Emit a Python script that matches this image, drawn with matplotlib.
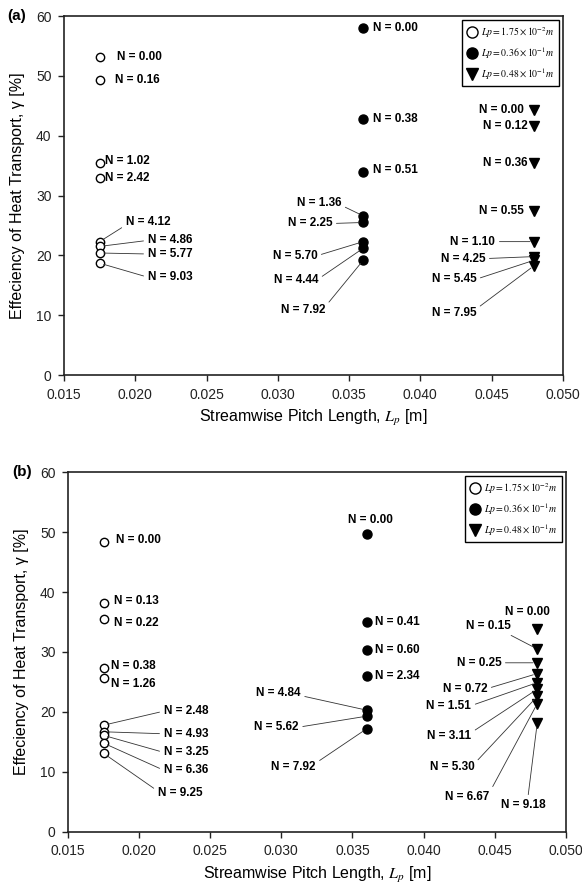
import matplotlib
matplotlib.use('Agg')
import matplotlib.pyplot as plt
import numpy as np
from matplotlib.lines import Line2D

plt.rcParams['font.family'] = ['Liberation Sans', 'DejaVu Sans']
plt.rcParams['mathtext.fontset'] = 'stix'

# streamwise pitch length of the three arrays [m]
lp_values = [0.0175, 0.036, 0.048]
legend_labels = [r'$Lp = 1.75 \times 10^{-2}m$',
                 r'$Lp = 0.36 \times 10^{-1}m$',
                 r'$Lp = 0.48 \times 10^{-1}m$']

# ---- panel (a) ----
a_open_N = ['0.00', '0.16', '1.02', '2.42', '4.12', '4.86', '5.77', '9.03']
a_open_eff = [53.1, 49.3, 35.5, 33.0, 22.3, 21.5, 20.4, 18.7]
a_fill_N = ['0.00', '0.38', '0.51', '1.36', '2.25', '5.70', '4.44', '7.92']
a_fill_eff = [58.0, 42.8, 34.0, 26.6, 25.5, 22.3, 21.2, 19.2]
a_tri_N = ['0.00', '0.12', '0.36', '0.55', '1.10', '4.25', '5.45', '7.95']
a_tri_eff = [44.3, 41.6, 35.4, 27.4, 22.3, 19.8, 19.2, 18.3]

# ---- panel (b) ----
b_open_N = ['0.00', '0.13', '0.22', '0.38', '1.26', '2.48', '4.93', '3.25', '6.36', '9.25']
b_open_eff = [48.3, 38.1, 35.5, 27.3, 25.6, 17.8, 16.7, 16.1, 14.8, 13.1]
b_fill_N = ['0.00', '0.41', '0.60', '2.34', '4.84', '5.62', '7.92']
b_fill_eff = [49.6, 35.0, 30.3, 26.0, 20.3, 19.3, 17.2]
b_tri_N = ['0.00', '0.15', '0.25', '0.72', '1.51', '3.11', '5.30', '6.67', '9.18']
b_tri_eff = [33.8, 30.5, 28.2, 26.4, 24.9, 23.8, 22.6, 21.4, 18.2]

# label placement: (dx px, dy px, ha, leader line start on text box or None)
L, R = (0, 0.5), (1, 0.5)
a_open_pos = [(17, 0, 'left', None), (15, 0, 'left', None), (5, 2, 'left', None),
              (5, 0, 'left', None), (26, 20, 'left', (0, 0.2)), (48, 6, 'left', L),
              (48, -1, 'left', L), (48, -14, 'left', L)]
a_fill_pos = [(10, 0, 'left', None), (10, 0, 'left', None), (10, 2, 'left', None),
              (-22, 13, 'right', (1, 0.3)), (-31, -1, 'right', R), (-46, -14, 'right', R),
              (-45, -32, 'right', (1, 0.6)), (-38, -50, 'right', (1, 0.8))]
a_tri_pos = [(-10, 0, 'right', None), (-7, 0, 'right', None), (-7, 0, 'right', None),
             (-10, 0, 'right', None), (-39, 0, 'right', R), (-49, -2, 'right', R),
             (-58, -19, 'right', R), (-58, -47, 'right', (1, 0.8))]
b_open_pos = [(12, 2, 'left', None), (10, 2, 'left', None), (10, -4, 'left', None),
              (7, 2, 'left', None), (7, -6, 'left', None), (60, 14, 'left', L),
              (60, -2, 'left', L), (60, -17, 'left', L), (60, -27, 'left', L),
              (54, -40, 'left', (0, 0.7))]
b_fill_pos = [(4, 14, 'center', None), (8, 0, 'left', None), (8, 0, 'left', None),
              (8, 0, 'left', None), (-66, 17, 'right', (1, 0.3)), (-68, -11, 'right', R),
              (-51, -38, 'right', (1, 0.8))]
b_tri_pos = [(-10, 17, 'center', None), (-26, 23, 'right', (0.85, 0)), (-36, 0, 'right', R),
             (-50, -15, 'right', R), (-66, -23, 'right', R), (-66, -47, 'right', (1, 0.8)),
             (-63, -71, 'right', (1, 0.8)), (-48, -93, 'right', (1, 0.8)),
             (-14, -82, 'center', (0.6, 1))]

marker_styles = [dict(marker='o', mfc='white', mec='black', ms=6, mew=1.0),
                 dict(marker='o', mfc='black', mec='black', ms=6.5, mew=1.0),
                 dict(marker='v', mfc='black', mec='black', ms=7, mew=1.0)]


def draw_series(ax, x, effs, Ns, pos, style):
    ax.plot([x] * len(effs), effs, ls='none', zorder=3, **style)
    for y, n, (dx, dy, ha, rp) in zip(effs, Ns, pos):
        arrow = None
        if rp is not None:
            arrow = dict(arrowstyle='-', lw=0.6, color='#333333', shrinkA=1, shrinkB=3, relpos=rp)
        ax.annotate('N = ' + n, xy=(x, y), xytext=(dx, dy), textcoords='offset pixels',
                    ha=ha, va='center', fontsize=8.5, fontweight='bold', arrowprops=arrow)


def setup_axes(ax, tag):
    ax.set_xlim(0.015, 0.050)
    ax.set_ylim(0, 60)
    ax.set_xticks(np.arange(0.015, 0.0501, 0.005))
    ax.set_xticklabels(['%.3f' % v for v in np.arange(0.015, 0.0501, 0.005)])
    ax.set_yticks(range(0, 61, 10))
    ax.tick_params(direction='out', length=4, width=1, labelsize=10, pad=5, colors='#222222')
    for s in ax.spines.values():
        s.set_linewidth(1.2)
        s.set_color('#222222')
    ax.set_xlabel('Streamwise Pitch Length, $L_p$ [m]', fontsize=11.5, labelpad=5)
    ax.set_ylabel('Effeciency of Heat Transport, γ [%]', fontsize=11.5, labelpad=8)
    ax.text(-0.113, 1.0, tag, transform=ax.transAxes, ha='left', va='center',
            fontsize=11, fontweight='bold')
    handles = [Line2D([], [], ls='none', **st) for st in marker_styles]
    for h in handles:
        h.set_markersize(8)
    leg = ax.legend(handles, legend_labels, loc='upper right', fontsize=7,
                    frameon=True, fancybox=False, edgecolor='black', framealpha=1,
                    handlelength=1.0, handletextpad=0.4, labelspacing=0.55,
                    borderpad=0.5, borderaxespad=0.4)
    leg.get_frame().set_linewidth(1.0)


fig = plt.figure(figsize=(5.82, 8.94), dpi=100)
ax_a = fig.add_axes([0.110, 0.5805, 0.857, 0.4015])
ax_b = fig.add_axes([0.117, 0.0694, 0.855, 0.4026])

draw_series(ax_a, lp_values[0], a_open_eff, a_open_N, a_open_pos, marker_styles[0])
draw_series(ax_a, lp_values[1], a_fill_eff, a_fill_N, a_fill_pos, marker_styles[1])
draw_series(ax_a, lp_values[2], a_tri_eff, a_tri_N, a_tri_pos, marker_styles[2])
setup_axes(ax_a, '(a)')

draw_series(ax_b, lp_values[0], b_open_eff, b_open_N, b_open_pos, marker_styles[0])
draw_series(ax_b, lp_values[1], b_fill_eff, b_fill_N, b_fill_pos, marker_styles[1])
draw_series(ax_b, lp_values[2], b_tri_eff, b_tri_N, b_tri_pos, marker_styles[2])
setup_axes(ax_b, '(b)')

plt.savefig('out.png', dpi=100)
